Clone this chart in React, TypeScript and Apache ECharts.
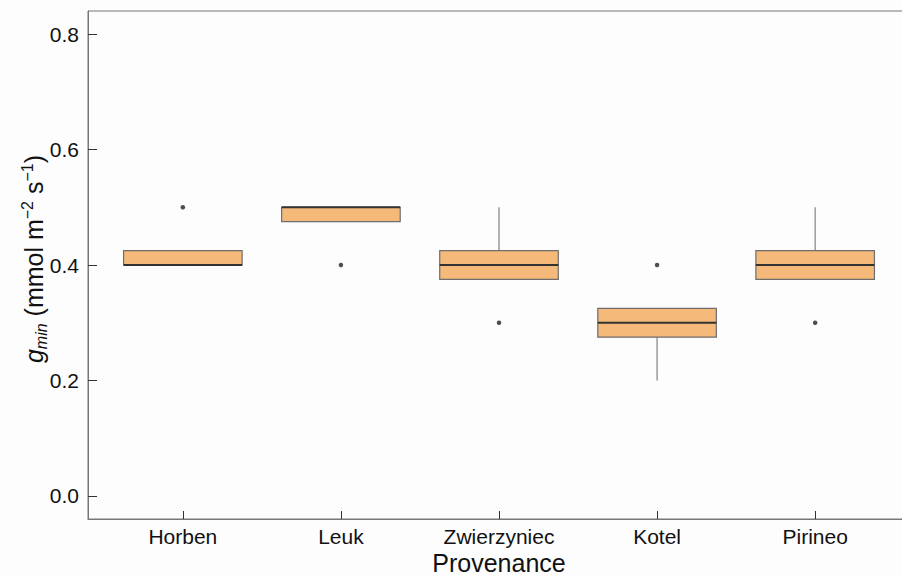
import React, { useEffect, useRef } from "react";
import * as echarts from "echarts";

// Provenances along the x axis
const provenances = ["Horben", "Leuk", "Zwierzyniec", "Kotel", "Pirineo"];
// Box statistics per provenance: lower whisker, Q1, median, Q3, upper whisker
const whiskerLow = [0.4, 0.475, 0.375, 0.2, 0.375];
const q1 = [0.4, 0.475, 0.375, 0.275, 0.375];
const median = [0.4, 0.5, 0.4, 0.3, 0.4];
const q3 = [0.425, 0.5, 0.425, 0.325, 0.425];
const whiskerHigh = [0.425, 0.5, 0.5, 0.325, 0.5];
// Outlying observations: [provenance index (1-based), value]
const outlierPos = [1, 2, 3, 4, 5];
const outlierVal = [0.5, 0.4, 0.3, 0.4, 0.3];
// Tick positions
const yTicks = [0, 0.2, 0.4, 0.6, 0.8];
const xTicks = [1, 2, 3, 4, 5];

const FONT = "Liberation Sans, Arial, Helvetica, sans-serif";
const BOX_HALF = 0.375;

export default function App() {
  const ref = useRef<HTMLDivElement | null>(null);

  useEffect(() => {
    if (!ref.current) return;
    const chart = echarts.init(ref.current, undefined, { renderer: "svg" });

    const boxData = provenances.map((_, i) => [
      i + 1,
      whiskerLow[i],
      q1[i],
      median[i],
      q3[i],
      whiskerHigh[i],
    ]);
    const outliers = outlierPos.map((p, i) => [p, outlierVal[i]]);

    const option: any = {
      animation: false,
      backgroundColor: "#fdfdfd",
      textStyle: { fontFamily: FONT },
      grid: {
        show: true,
        left: 88,
        top: 11,
        width: 822,
        height: 508,
        outerBoundsMode: "none",
        containLabel: false,
        borderColor: "#777777",
        borderWidth: 1,
        backgroundColor: "transparent",
      },
      xAxis: {
        type: "value",
        min: 0.4,
        max: 5.6,
        name: "Provenance",
        nameLocation: "middle",
        nameGap: 31,
        nameMoveOverlap: false,
        nameTextStyle: { fontSize: 25, color: "#111111", fontFamily: FONT },
        axisLine: { show: true, onZero: false, lineStyle: { color: "#777777", width: 1 } },
        axisTick: {
          show: true,
          inside: true,
          length: 8,
          customValues: xTicks,
          lineStyle: { color: "#333333", width: 1 },
        },
        axisLabel: {
          customValues: xTicks,
          formatter: (v: number) => provenances[Math.round(v) - 1] ?? "",
          fontSize: 21,
          color: "#111111",
          margin: 7,
          fontFamily: FONT,
        },
        splitLine: { show: false },
      },
      yAxis: {
        type: "value",
        min: -0.04,
        max: 0.84,
        axisLine: { show: true, onZero: false, lineStyle: { color: "#777777", width: 1 } },
        axisTick: {
          show: true,
          inside: true,
          length: 9,
          customValues: yTicks,
          lineStyle: { color: "#333333", width: 1 },
        },
        axisLabel: {
          customValues: yTicks,
          formatter: (v: number) => v.toFixed(1),
          fontSize: 21,
          color: "#111111",
          margin: 9,
          fontFamily: FONT,
        },
        splitLine: { show: false },
      },
      graphic: [
        {
          type: "text",
          x: 34,
          y: 259,
          rotation: Math.PI / 2,
          style: {
            text: "{it|g}{sub|min}{n| (mmol m}{sup|−2}{n| s}{sup|−1}{n|)}",
            align: "center",
            verticalAlign: "middle",
            fontFamily: FONT,
            fontSize: 25,
            fill: "#111111",
            rich: {
              it: { fontStyle: "italic", fontSize: 25, lineHeight: 30, fontFamily: FONT, fill: "#111111" },
              n: { fontSize: 25, lineHeight: 30, fontFamily: FONT, fill: "#111111" },
              sub: {
                fontStyle: "italic",
                fontSize: 16,
                lineHeight: 14,
                verticalAlign: "bottom",
                fontFamily: FONT,
                fill: "#111111",
              },
              sup: { fontSize: 16, lineHeight: 14, verticalAlign: "top", fontFamily: FONT, fill: "#111111" },
            },
          },
        },
      ],
      series: [
        {
          type: "custom",
          data: boxData,
          encode: { x: 0, y: [1, 2, 3, 4, 5] },
          renderItem: (params: any, api: any) => {
            const x = api.value(0);
            const lo = api.value(1);
            const a = api.value(2);
            const m = api.value(3);
            const b = api.value(4);
            const hi = api.value(5);
            const pLoW = api.coord([x, lo]);
            const pQ1 = api.coord([x, a]);
            const pQ3 = api.coord([x, b]);
            const pHiW = api.coord([x, hi]);
            const tl = api.coord([x - BOX_HALF, b]);
            const br = api.coord([x + BOX_HALF, a]);
            const ml = api.coord([x - BOX_HALF, m]);
            const mr = api.coord([x + BOX_HALF, m]);
            const whiskerStyle = { stroke: "#808080", lineWidth: 1.2 };
            return {
              type: "group",
              children: [
                {
                  type: "line",
                  shape: { x1: pQ3[0], y1: pQ3[1], x2: pHiW[0], y2: pHiW[1] },
                  style: whiskerStyle,
                },
                {
                  type: "line",
                  shape: { x1: pQ1[0], y1: pQ1[1], x2: pLoW[0], y2: pLoW[1] },
                  style: whiskerStyle,
                },
                {
                  type: "rect",
                  shape: { x: tl[0], y: tl[1], width: br[0] - tl[0], height: br[1] - tl[1] },
                  style: { fill: "#F5B97A", stroke: "#6e6e6e", lineWidth: 1.2 },
                },
                {
                  type: "line",
                  shape: { x1: ml[0], y1: ml[1], x2: mr[0], y2: mr[1] },
                  style: { stroke: "#333333", lineWidth: 2 },
                },
              ],
            };
          },
          z: 2,
        },
        {
          type: "scatter",
          data: outliers,
          symbol: "circle",
          symbolSize: 4.5,
          itemStyle: { color: "#222222" },
          z: 3,
        },
      ],
    };

    chart.setOption(option);
    return () => chart.dispose();
  }, []);

  return (
    <div
      ref={ref}
      style={{ position: "fixed", left: 0, top: 0, width: 902, height: 575 }}
    />
  );
}
